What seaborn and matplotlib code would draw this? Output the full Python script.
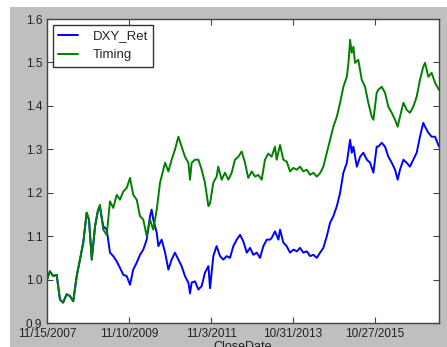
import pandas as pd
import matplotlib.pyplot as plt
import seaborn as sns
from matplotlib.patches import Rectangle

sns.set_style("ticks")
plt.rcParams['font.family'] = ['Liberation Sans', 'DejaVu Sans']

# trading-day index (0 = 11/15/2007) and cumulative returns
common_day = [0, 18, 38, 59, 79, 98, 120, 140, 160, 181, 201, 221, 242, 256, 273, 293, 311]
common_val = [1.000, 1.019, 1.008, 1.011, 0.954, 0.947, 0.966, 0.962, 0.950, 1.008,
              1.046, 1.085, 1.154, 1.138, 1.046, 1.123, 1.160]

dxy_day = [323, 343, 364, 384, 404, 425, 445, 465, 486, 506,
           526, 547, 567, 587, 608, 628, 638, 648, 669, 679,
           699, 720, 740, 760, 780, 801, 821, 841, 862, 872,
           882, 902, 923, 943, 963, 984, 994, 1014, 1034, 1055,
           1075, 1096, 1116, 1136, 1157, 1177, 1197, 1218, 1238, 1258,
           1279, 1299, 1319, 1340, 1360, 1370, 1390, 1411, 1421, 1441,
           1461, 1482, 1502, 1523, 1543, 1563, 1584, 1604, 1624, 1645,
           1665, 1685, 1706, 1726, 1746, 1767, 1787, 1807, 1828, 1848,
           1858, 1868, 1889, 1909, 1929, 1950, 1970, 1990, 2010, 2020,
           2041, 2061, 2081, 2102, 2122, 2138, 2152, 2173, 2193, 2213,
           2233, 2254, 2274, 2294, 2305, 2325, 2345, 2366, 2390]
dxy_val = [1.165, 1.123, 1.115, 1.062, 1.054, 1.042, 1.027, 1.011, 1.008, 0.988,
           1.023, 1.039, 1.057, 1.069, 1.092, 1.146, 1.161, 1.138, 1.108, 1.077,
           1.092, 1.062, 1.023, 1.046, 1.062, 1.046, 1.031, 1.008, 0.993, 0.968,
           0.993, 0.996, 0.977, 0.985, 1.016, 1.031, 0.980, 1.054, 1.077, 1.054,
           1.046, 1.054, 1.050, 1.077, 1.092, 1.103, 1.088, 1.062, 1.073, 1.057,
           1.062, 1.050, 1.077, 1.092, 1.092, 1.096, 1.111, 1.092, 1.115, 1.085,
           1.077, 1.062, 1.069, 1.065, 1.073, 1.062, 1.065, 1.054, 1.057, 1.050,
           1.062, 1.073, 1.100, 1.131, 1.146, 1.169, 1.200, 1.246, 1.269, 1.322,
           1.292, 1.306, 1.260, 1.283, 1.292, 1.276, 1.269, 1.246, 1.306, 1.306,
           1.315, 1.306, 1.283, 1.269, 1.253, 1.230, 1.253, 1.276, 1.269, 1.260,
           1.276, 1.292, 1.329, 1.361, 1.352, 1.338, 1.329, 1.329, 1.306]

timing_day = [323, 343, 364, 384, 404, 425, 445, 465, 486, 506,
              526, 547, 567, 587, 608, 628, 648, 669, 689, 720,
              740, 760, 780, 801, 821, 841, 862, 872, 882, 902,
              923, 943, 963, 984, 994, 1014, 1034, 1044, 1065, 1085,
              1106, 1126, 1146, 1167, 1187, 1207, 1227, 1248, 1268, 1288,
              1309, 1329, 1349, 1370, 1390, 1400, 1421, 1441, 1461, 1482,
              1502, 1523, 1543, 1563, 1584, 1604, 1624, 1645, 1665, 1685,
              1706, 1726, 1746, 1767, 1787, 1807, 1828, 1838, 1848, 1858,
              1868, 1878, 1898, 1919, 1939, 1959, 1980, 1990, 2010, 2020,
              2041, 2061, 2081, 2102, 2122, 2138, 2152, 2173, 2193, 2213,
              2233, 2254, 2274, 2294, 2305, 2325, 2345, 2366, 2390]
timing_val = [1.172, 1.115, 1.103, 1.180, 1.165, 1.195, 1.184, 1.203, 1.211, 1.234,
              1.195, 1.184, 1.146, 1.138, 1.100, 1.138, 1.115, 1.161, 1.223, 1.269,
              1.249, 1.276, 1.299, 1.329, 1.306, 1.283, 1.269, 1.230, 1.269, 1.276,
              1.276, 1.253, 1.223, 1.169, 1.175, 1.223, 1.237, 1.260, 1.230, 1.246,
              1.230, 1.246, 1.276, 1.283, 1.295, 1.269, 1.234, 1.249, 1.237, 1.241,
              1.230, 1.276, 1.290, 1.283, 1.306, 1.276, 1.310, 1.276, 1.272, 1.249,
              1.257, 1.253, 1.260, 1.249, 1.253, 1.241, 1.246, 1.237, 1.245, 1.260,
              1.292, 1.322, 1.352, 1.375, 1.407, 1.444, 1.467, 1.499, 1.552, 1.522,
              1.536, 1.499, 1.506, 1.460, 1.444, 1.407, 1.375, 1.368, 1.430, 1.437,
              1.444, 1.430, 1.398, 1.384, 1.368, 1.352, 1.375, 1.407, 1.391, 1.384,
              1.398, 1.421, 1.460, 1.490, 1.499, 1.467, 1.476, 1.453, 1.437]

tick_days = [0, 500, 1000, 1500, 2000]
tick_labels = ["11/15/2007", "11/10/2009", "11/3/2011", "10/31/2013", "10/27/2015"]

df = pd.concat([
    pd.DataFrame({'day': common_day + dxy_day, 'value': common_val + dxy_val, 'series': 'DXY_Ret'}),
    pd.DataFrame({'day': common_day + timing_day, 'value': common_val + timing_val, 'series': 'Timing'}),
], ignore_index=True)

fig = plt.figure(figsize=(4.47, 3.47), dpi=100, facecolor='white')
# grey figure background (screenshot has a thin white margin left/top)
fig.patches.append(Rectangle((10 / 447, 0), 1, 1 - 7 / 347, transform=fig.transFigure,
                             facecolor='#bfbfbf', edgecolor='none', zorder=-1))
ax = fig.add_axes([47 / 447, 1 - 323 / 347, (439 - 47) / 447, (323 - 19) / 347])

sns.lineplot(data=df, x='day', y='value', hue='series', hue_order=['DXY_Ret', 'Timing'],
             palette={'DXY_Ret': '#0000ff', 'Timing': '#007f00'}, linewidth=1.4,
             estimator=None, ax=ax)

ax.set_xlim(0, 2390)
ax.set_ylim(0.9, 1.6)
ax.set_xticks(tick_days)
ax.set_xticklabels(tick_labels)
ax.set_yticks([0.9, 1.0, 1.1, 1.2, 1.3, 1.4, 1.5, 1.6])
ax.set_yticklabels(['0.9', '1.0', '1.1', '1.2', '1.3', '1.4', '1.5', '1.6'])
ax.tick_params(direction='in', top=True, right=True, length=4, labelsize=8.5,
               labelcolor='#222222', color='#444444')
ax.set_xlabel('CloseDate', fontsize=9, labelpad=1, color='#222222')
ax.set_ylabel('')
for sp in ax.spines.values():
    sp.set_color('#444444')
    sp.set_linewidth(1.0)

handles, labels = ax.get_legend_handles_labels()
leg = ax.legend(handles, labels, loc='upper left', fontsize=9.5, frameon=True, fancybox=False,
                edgecolor='#333333', framealpha=1, handlelength=1.5, handletextpad=1.1,
                borderaxespad=0.45, borderpad=0.4)
leg.get_frame().set_linewidth(1.0)

fig.savefig('out.png', dpi=100, facecolor=fig.get_facecolor())
